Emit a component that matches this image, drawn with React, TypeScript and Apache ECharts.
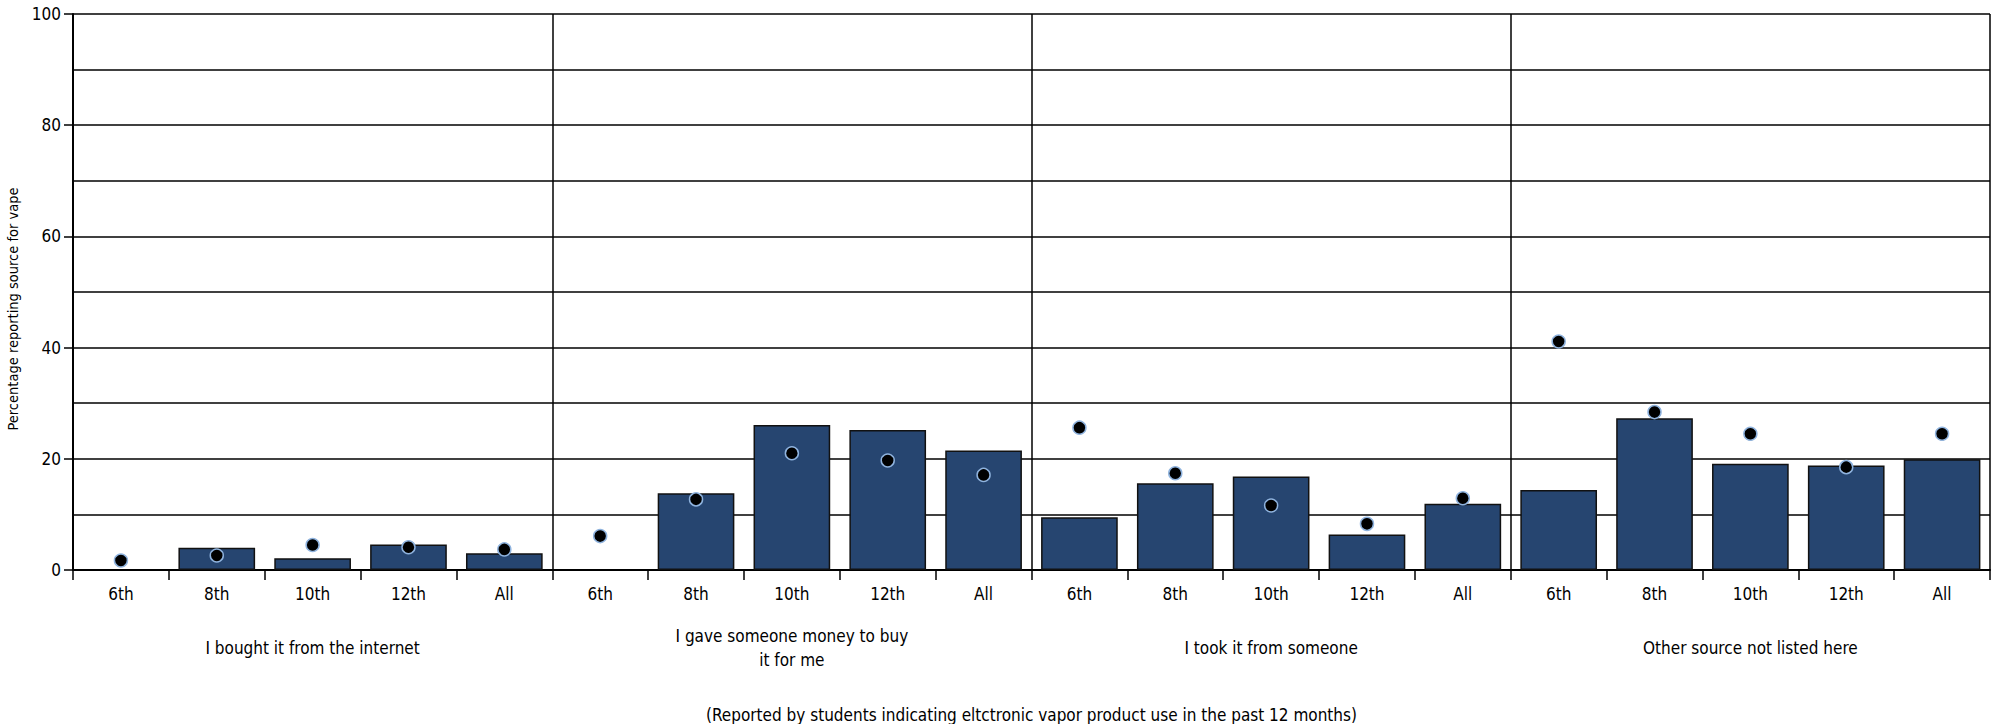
import React, { useEffect, useRef } from "react";
import * as echarts from "echarts";

const grades = ["6th", "8th", "10th", "12th", "All"];
const panels = [
  "I bought it from the internet",
  "I gave someone money to buy\nit for me",
  "I took it from someone",
  "Other source not listed here",
];
const barInternet = [null, 4.0, 2.1, 4.6, 3.0];
const dotInternet = [1.7, 2.6, 4.5, 4.1, 3.7];
const barGaveMoney = [null, 13.8, 26.1, 25.2, 21.5];
const dotGaveMoney = [6.1, 12.7, 21.0, 19.7, 17.1];
const barTook = [9.5, 15.6, 16.8, 6.4, 11.9];
const dotTook = [25.6, 17.4, 11.6, 8.3, 12.9];
const barOther = [14.4, 27.3, 19.1, 18.8, 19.9];
const dotOther = [41.1, 28.4, 24.5, 18.5, 24.5];
const yTicks = { min: 0, max: 100, interval: 20 };
const yName = "Percentage reporting source for vape";
const footnote = "(Reported by students indicating eltctronic vapor product use in the past 12 months)";

const FONT = "'Liberation Sans Narrow', 'DejaVu Sans Condensed', sans-serif";

export default function App() {
  const ref = useRef<HTMLDivElement>(null);
  useEffect(() => {
    document.body.style.margin = "0";
    const chart = echarts.init(ref.current!, null, { renderer: "svg" });
    const cats: string[] = [];
    panels.forEach(() => grades.forEach((g) => cats.push(g)));
    const bars = [...barInternet, ...barGaveMoney, ...barTook, ...barOther].map((v) => (v == null ? "-" : v));
    const dots = [...dotInternet, ...dotGaveMoney, ...dotTook, ...dotOther];
    chart.setOption({
      animation: false,
      textStyle: { fontFamily: FONT, color: "#000" },
      grid: { left: 73, right: 9, top: 14, bottom: 154, containLabel: false, outerBoundsMode: "none" },
      xAxis: [
        {
          type: "category",
          data: cats,
          boundaryGap: true,
          axisLine: { show: true, lineStyle: { color: "#000", width: 2 } },
          axisTick: { show: true, interval: 0, length: 10, lineStyle: { color: "#000", width: 1.5 } },
          axisLabel: { interval: 0, fontSize: 17, color: "#000", margin: 15, fontFamily: FONT },
          splitLine: { show: false },
        },
        {
          type: "category",
          data: panels,
          position: "bottom",
          offset: 72,
          boundaryGap: true,
          axisLine: { show: false },
          axisTick: { show: false },
          axisLabel: {
            interval: 0,
            fontSize: 17,
            color: "#000",
            margin: 6,
            verticalAlign: "middle",
            lineHeight: 24,
            fontFamily: FONT,
          },
          splitLine: { show: true, lineStyle: { color: "#000", width: 1.5 } },
          name: footnote,
          nameLocation: "middle",
          nameGap: 73,
          nameTextStyle: { fontSize: 17, color: "#000", fontFamily: FONT, verticalAlign: "middle" },
        },
      ],
      yAxis: {
        type: "value",
        min: yTicks.min,
        max: yTicks.max,
        interval: yTicks.interval,
        name: yName,
        nameLocation: "middle",
        nameGap: 43,
        nameTextStyle: { fontSize: 14.5, color: "#000", fontFamily: FONT, padding: [0, 34, 0, 0] },
        axisLine: { show: true, lineStyle: { color: "#000", width: 2 } },
        axisTick: { show: true, length: 9, lineStyle: { color: "#000", width: 1.5 } },
        axisLabel: { fontSize: 17, color: "#000", margin: 12, fontFamily: FONT },
        splitLine: { show: true, lineStyle: { color: "#000", width: 1.5 } },
        minorTick: { show: false, splitNumber: 2 },
        minorSplitLine: { show: true, lineStyle: { color: "#000", width: 1.5 } },
      },
      series: [
        {
          type: "bar",
          xAxisIndex: 0,
          data: bars,
          barWidth: "80%",
          itemStyle: { color: "#264570", borderColor: "#111", borderWidth: 1.5 },
          z: 3,
        },
        {
          type: "scatter",
          xAxisIndex: 0,
          data: dots,
          symbol: "circle",
          symbolSize: 13,
          itemStyle: { color: "#000", borderColor: "#8fb3de", borderWidth: 1.5, opacity: 1 },
          z: 4,
        },
      ],
    });
    return () => chart.dispose();
  }, []);
  return <div ref={ref} style={{ position: "absolute", left: 0, top: 0, width: 1999, height: 724 }} />;
}
